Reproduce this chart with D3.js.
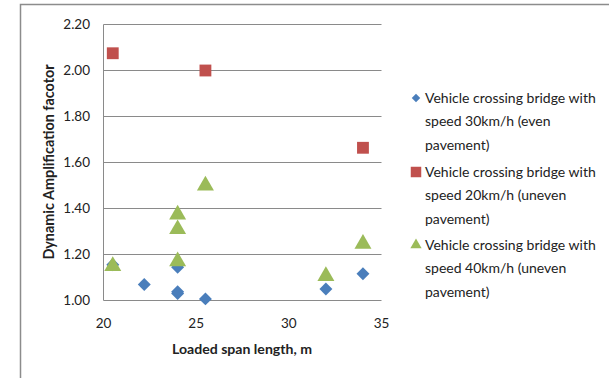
<!DOCTYPE html>
<html><head><meta charset="utf-8">
<script src="https://cdn.jsdelivr.net/npm/d3@7"></script>
<style>body{margin:0;background:#fff}svg{display:block}text{font-family:Lato,"Open Sans",sans-serif;fill:#222}</style>
</head><body>
<script>
const seriesNames = [
  ["Vehicle crossing bridge with","speed 30km/h (even","pavement)"],
  ["Vehicle crossing bridge with","speed 20km/h (uneven","pavement)"],
  ["Vehicle crossing bridge with","speed 40km/h (uneven","pavement)"]
];
const blueX = [20.5, 22.2, 24, 24, 24, 25.5, 32, 34];
const blueY = [1.155, 1.07, 1.145, 1.03, 1.038, 1.007, 1.05, 1.116];
const redX = [20.5, 25.5, 34];
const redY = [2.075, 2.0, 1.664];
const greenX = [20.5, 24, 24, 24, 25.5, 32, 34];
const greenY = [1.15, 1.374, 1.31, 1.17, 1.50, 1.106, 1.246];
const xTicks = [20, 25, 30, 35];
const yTicks = [1.0, 1.2, 1.4, 1.6, 1.8, 2.0, 2.2];
const colors = ["#4A7EBB", "#C0504D", "#9BBB59"];
const shapes = [d3.symbolSquare, d3.symbolSquare, d3.symbolTriangle];
const rot = [45, 0, 0];

const W = 609, H = 378;
const svg = d3.select("body").append("svg").attr("width", W).attr("height", H);
svg.append("path").attr("d", "M20.5,378 V4.5 H609").attr("fill", "none").attr("stroke", "#8c8c8c").attr("stroke-width", 1.5);

const x = d3.scaleLinear().domain([20, 35]).range([103.5, 381.5]);
const y = d3.scaleLinear().domain([1.0, 2.2]).range([300.5, 24.5]);

const g = svg.append("g");
g.selectAll("line.grid").data(yTicks).enter().append("line")
  .attr("x1", x(20)).attr("x2", x(35)).attr("y1", d => y(d)).attr("y2", d => y(d))
  .attr("stroke", "#8a8a8a").attr("stroke-width", 1);
g.append("line").attr("x1", x(20)).attr("x2", x(20)).attr("y1", y(2.2)).attr("y2", y(1.0))
  .attr("stroke", "#8a8a8a");

g.selectAll("text.yt").data(yTicks).enter().append("text")
  .attr("x", 90).attr("y", d => y(d)).attr("dy", "0.35em").attr("text-anchor", "end")
  .attr("font-size", 13.5).text(d => d3.format(".2f")(d));
g.selectAll("text.xt").data(xTicks).enter().append("text")
  .attr("x", d => x(d)).attr("y", 328).attr("text-anchor", "middle")
  .attr("font-size", 13.5).text(d => d);

svg.append("text").attr("x", 242).attr("y", 354).attr("text-anchor", "middle")
  .attr("font-size", 14.1).attr("font-weight", "bold").text("Loaded span length, m");
svg.append("text").attr("transform", "translate(54,162) rotate(-90)").attr("text-anchor", "middle")
  .attr("font-size", 14.4).attr("font-weight", "bold").text("Dynamic Amplification facotor");

const sets = [[blueX, blueY], [redX, redY], [greenX, greenY]];
const sizes = [84, 140, 125];
[0, 2, 1].forEach(i => {
  const [xs, ys] = sets[i];
  g.selectAll(null).data(xs.map((v, k) => [v, ys[k]])).enter().append("path")
    .attr("d", d3.symbol().type(shapes[i]).size(sizes[i]))
    .attr("transform", d => `translate(${x(d[0])},${y(d[1])}) rotate(${rot[i]})`)
    .attr("fill", colors[i]);
});

const legTop = [98, 172, 245];
const legSizes = [36, 110, 55];
seriesNames.forEach((lines, i) => {
  svg.append("path").attr("d", d3.symbol().type(shapes[i]).size(legSizes[i])())
    .attr("transform", `translate(416,${legTop[i]}) rotate(${rot[i]})`).attr("fill", colors[i]);
  const t = svg.append("text").attr("x", 425).attr("font-size", 14);
  lines.forEach((l, k) => t.append("tspan").attr("x", 425).attr("y", legTop[i] + k * 23.5).attr("dy", "0.35em").text(l));
});
</script>
</body></html>
